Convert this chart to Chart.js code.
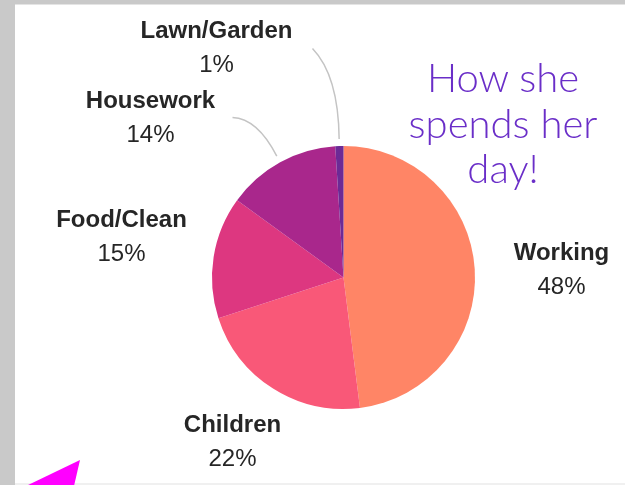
<!DOCTYPE html>
<html>
<head>
<meta charset="utf-8">
<script src="https://cdn.jsdelivr.net/npm/chart.js@4"></script>
<style>
  html, body { margin: 0; padding: 0; }
  body { width: 625px; height: 485px; position: relative; overflow: hidden; background: #c9c9c9; }
  .panel { position: absolute; left: 15px; top: 4px; right: 0; bottom: 0; background: #fff; border-top: 1px solid #e4e4e4; }
  .panel-bottom { position: absolute; left: 15px; right: 0; top: 483px; height: 2px; background: #f0f0f0; }
  #pie { position: absolute; left: 0; top: 0; }
  .caption {
    position: absolute; left: 393px; width: 220px; top: 55px;
    font-family: Lato, "Open Sans", sans-serif; font-weight: 300;
    font-size: 40px; line-height: 45.5px; color: #6a2ec8; text-align: center;
  }
  .pointer {
    position: absolute; left: 0; top: 0; width: 625px; height: 485px;
    background: #ff00ff;
    clip-path: polygon(80px 460px, 26px 486px, 74px 486px);
  }
</style>
</head>
<body>
<div class="panel"></div>
<div class="panel-bottom"></div>
<canvas id="pie" width="625" height="485"></canvas>
<div class="caption">How she<br>spends her<br>day!</div>
<div class="pointer"></div>
<script>
const categories = ['Working', 'Children', 'Food/Clean', 'Housework', 'Lawn/Garden']
const shares = [48, 22, 15, 14, 1]
const colors = ['#ff8566', '#f95878', '#dd3780', '#a9278c', '#6c2a96']

// where each label sits, relative to the pie centre (name baseline)
const labelSpots = [
  { dx: 218, dy: -18 },
  { dx: -111, dy: 154 },
  { dx: -222, dy: -51 },
  { dx: -193, dy: -170 },
  { dx: -127, dy: -240 },
]
// curved leader lines for the crowded slices: start point and bend, relative to centre
const leaders = {
  3: { sx: -111, sy: -160, cx: -86, cy: -159 },
  4: { sx: -31, sy: -229, cx: -5, cy: -202 },
}

const sliceLabels = {
  id: 'sliceLabels',
  afterDatasetsDraw(chart) {
    const { ctx } = chart
    const arcs = chart.getDatasetMeta(0).data
    const total = shares.reduce((a, b) => a + b, 0)
    const x0 = arcs[0].x
    const y0 = arcs[0].y
    ctx.save()
    arcs.forEach((arc, i) => {
      const lead = leaders[i]
      if (lead) {
        const mid = (arc.startAngle + arc.endAngle) / 2
        const r = arc.outerRadius + 7
        ctx.beginPath()
        ctx.moveTo(x0 + lead.sx, y0 + lead.sy)
        ctx.quadraticCurveTo(x0 + lead.cx, y0 + lead.cy, x0 + Math.cos(mid) * r, y0 + Math.sin(mid) * r)
        ctx.strokeStyle = '#c4c4c4'
        ctx.lineWidth = 1.5
        ctx.stroke()
      }
      const spot = labelSpots[i]
      const x = x0 + spot.dx
      const y = y0 + spot.dy
      ctx.fillStyle = '#262626'
      ctx.textAlign = 'center'
      ctx.textBaseline = 'alphabetic'
      ctx.font = 'bold 24px "Liberation Sans", Arial, sans-serif'
      ctx.fillText(categories[i], x, y)
      ctx.font = '24px "Liberation Sans", Arial, sans-serif'
      ctx.fillText(Math.round(shares[i] / total * 100) + '%', x, y + 34)
    })
    ctx.restore()
  },
}

new Chart(document.getElementById('pie'), {
  type: 'pie',
  data: {
    labels: categories,
    datasets: [{
      data: shares,
      backgroundColor: colors,
      borderWidth: 0,
    }],
  },
  options: {
    responsive: false,
    animation: false,
    layout: { padding: { left: 212, right: 150, top: 146, bottom: 76 } },
    plugins: {
      legend: { display: false },
      tooltip: { enabled: false },
    },
  },
  plugins: [sliceLabels],
})
</script>
</body>
</html>
